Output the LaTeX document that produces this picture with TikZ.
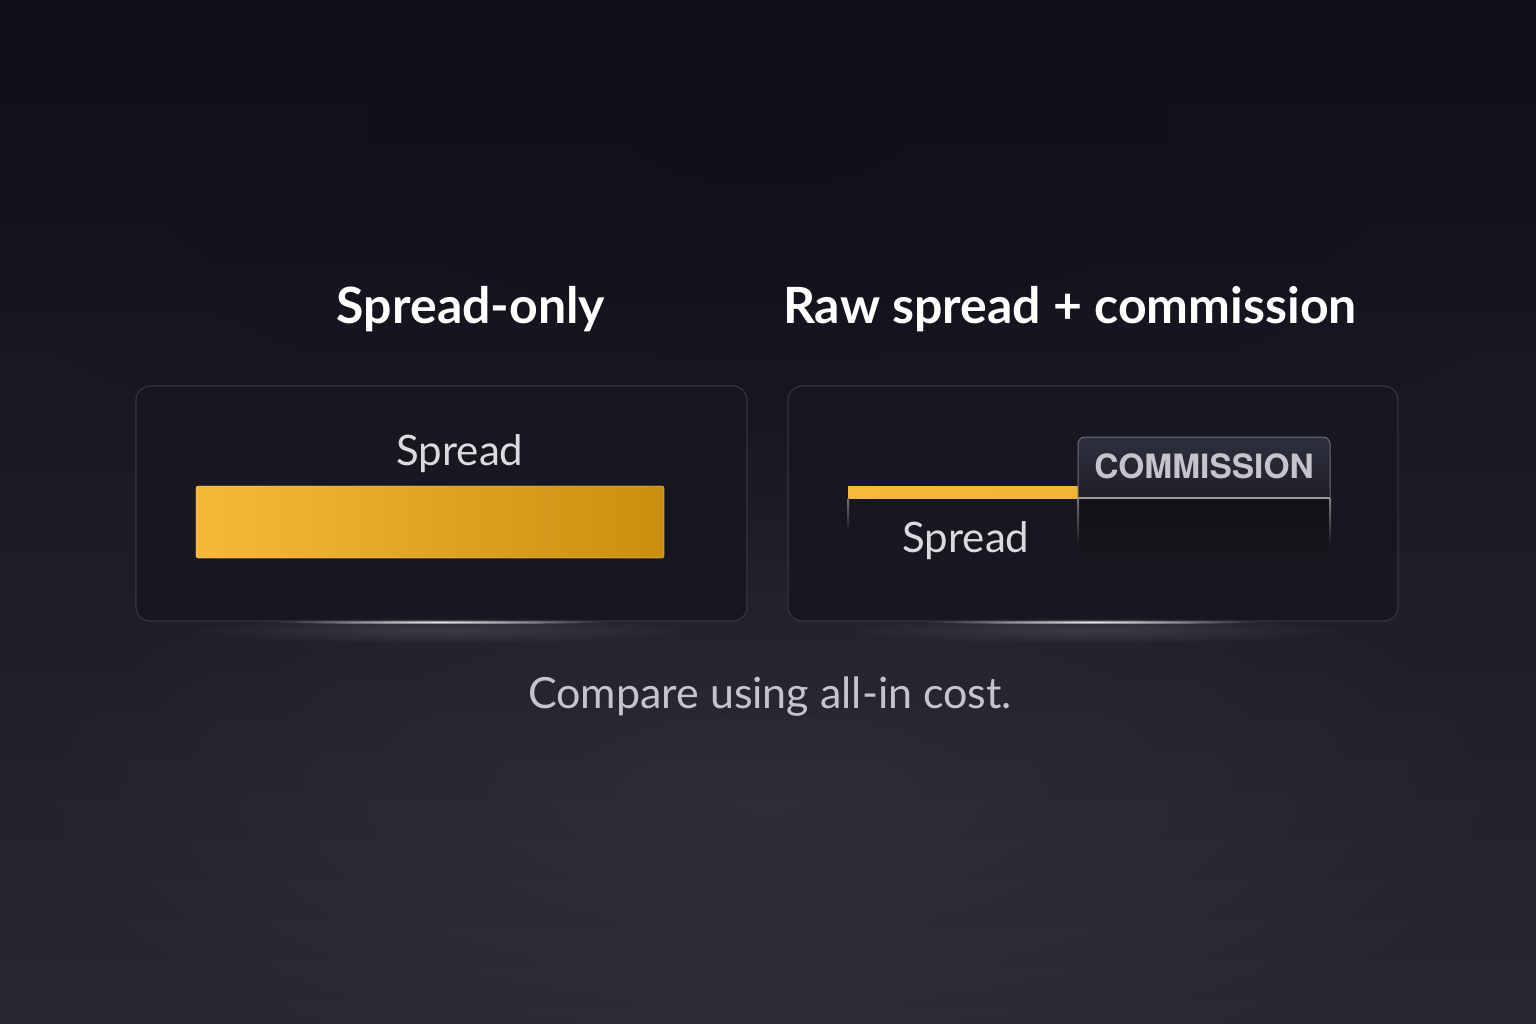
\documentclass[tikz,border=0pt]{standalone}
\usepackage{fontspec}
\setmainfont{Lato}
\newfontfamily\headfont{Lato}
\newfontfamily\capsfont{TeX Gyre Heros}
\usetikzlibrary{fadings}
\tikzfading[name=radfade, inner color=transparent!0, outer color=transparent!100]
\tikzfading[name=downfade, top color=transparent!0, bottom color=transparent!100]
\definecolor{bgtop}{HTML}{0E0F18}
\definecolor{bgbot}{HTML}{272834}
\definecolor{panelfill}{HTML}{17171F}
\definecolor{panelline}{HTML}{34353F}
\definecolor{goldA}{HTML}{F7B93A}
\definecolor{goldB}{HTML}{C98F0F}
\definecolor{txtlight}{HTML}{DADADF}
\definecolor{txtmid}{HTML}{C3C4CC}
\definecolor{tabA}{HTML}{2E2F3C}
\definecolor{tabB}{HTML}{1E1F2A}
\tikzset{
  panel/.style={rounded corners=14pt, fill=panelfill, draw=panelline, line width=1.2pt},
  title/.style={text=white, font=\headfont\bfseries\fontsize{50}{56}\selectfont, inner sep=0pt, anchor=base},
  lbl/.style={text=txtlight, font=\fontsize{42}{48}\selectfont, inner sep=0pt, anchor=base},
  note/.style={text=txtmid, font=\fontsize{43}{48}\selectfont, inner sep=0pt, anchor=base},
  caps/.style={text=txtmid, font=\capsfont\bfseries\fontsize{33.5}{38}\selectfont, inner sep=0pt, anchor=base},
  glow/.style={fill=white, path fading=radfade},
}
\begin{document}
\begin{tikzpicture}[x=1pt,y=-1pt]
\useasboundingbox (0,0) rectangle (1536,1024);
% background
\shade[top color=bgtop, bottom color=bgbot] (0,0) rectangle (1536,1024);
\fill[bgtop, opacity=0.6, path fading=radfade] (768,120) ellipse (900 and 380);
\fill[white, opacity=0.05, path fading=radfade] (768,800) ellipse (800 and 320);
% titles
\node[title] (t1) at (471,323) {Spread-only};
\node[title] (t2) at (1070,323) {Raw spread + commission};
% panels
\draw[panel] (136,386) rectangle (747,621);
\draw[panel] (788,386) rectangle (1398,621);
% bottom glows
\fill[glow, opacity=0.9] (440,622) ellipse (170 and 2.2);
\fill[glow, opacity=0.9] (1093,622) ellipse (170 and 2.2);
\fill[glow, opacity=0.12] (440,630) ellipse (260 and 14);
\fill[glow, opacity=0.12] (1093,630) ellipse (260 and 14);
% left panel content
\node[lbl] (s1) at (460,465) {Spread};
\shade[left color=goldA, right color=goldB, rounded corners=2pt] (196,486) rectangle (664,558);
\draw[goldA!60!white, opacity=0.5, line width=0.8pt, rounded corners=2pt] (196,486) rectangle (664,558);
% right panel content
\shade[left color=goldA, right color=goldA!90!goldB] (848,486) rectangle (1078,498);
% commission tab
\shade[top color=tabA, bottom color=tabB, rounded corners=7pt] (1078,498) -- (1078,437) -- (1330,437) -- (1330,498) [sharp corners]-- cycle;
\draw[white!30!tabA, line width=1pt, rounded corners=7pt] (1078,498) -- (1078,437) -- (1330,437) -- (1330,498);
\draw[white!55!tabB, line width=1.2pt] (1078,498) -- (1330,498);
\node[caps] (com) at (1204,478) {COMMISSION};
% faint guide lines below
\shade[top color=white!40!panelfill, bottom color=panelfill] (847.5,498) rectangle (849,532);
\shade[top color=white!40!panelfill, bottom color=panelfill] (1077.5,498) rectangle (1079,545);
\shade[top color=white!45!panelfill, bottom color=panelfill] (1329.5,498) rectangle (1331,545);
\fill[black, opacity=0.25, path fading=downfade] (1079,499) rectangle (1329.5,565);
\node[lbl] (s2) at (966,552) {Spread};
% footer note
\node[note] (n) at (770,708) {Compare using all-in cost.};
\end{tikzpicture}
\end{document}
